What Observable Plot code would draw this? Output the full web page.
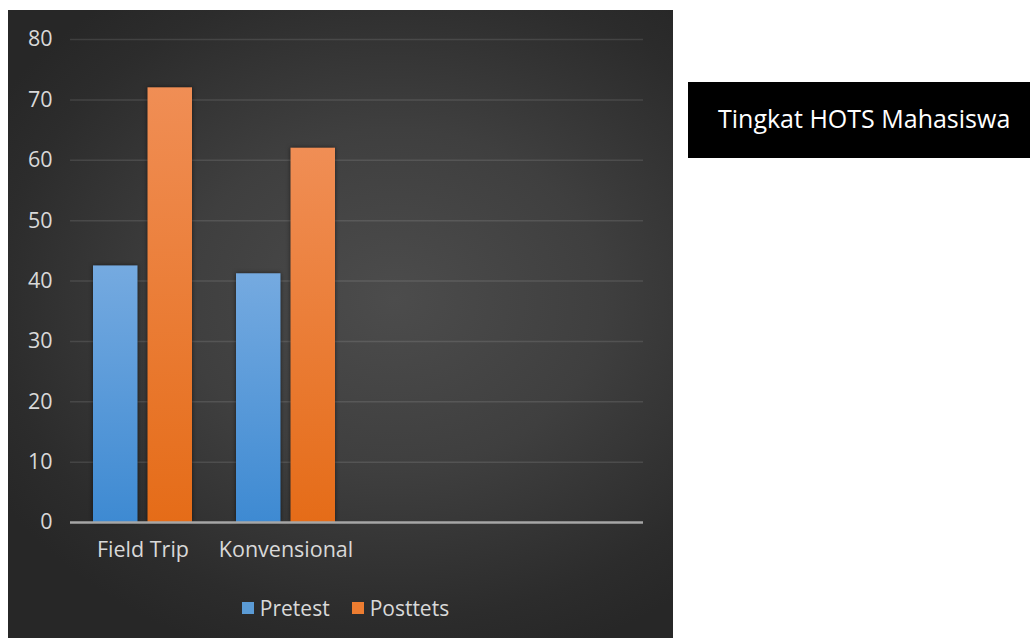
<!DOCTYPE html>
<html>
<head>
<meta charset="utf-8">
<script src="https://cdn.jsdelivr.net/npm/d3@7"></script>
<script src="https://cdn.jsdelivr.net/npm/@observablehq/plot@0.6"></script>
<style>
  html, body { margin: 0; padding: 0; background: #ffffff; width: 1030px; height: 638px; overflow: hidden; }
  #panel {
    position: absolute; left: 8px; top: 10px; width: 665px; height: 628px;
    background: radial-gradient(ellipse 70% 60% at 58% 46%, #4c4c4c 0%, #3f3f3f 45%, #2c2c2c 85%, #272727 100%);
    font-family: "Open Sans", sans-serif;
  }
  #chart { position: absolute; left: 0; top: 0; }
  #legend {
    position: absolute; left: 5px; top: 585px; width: 665px; height: 26px;
    display: flex; justify-content: center; align-items: center; gap: 22px;
    color: #d9d9d9; font-size: 21px; font-family: "Open Sans", sans-serif;
  }
  #legend .item { display: flex; align-items: center; gap: 6px; }
  #legend .sw { width: 12px; height: 12px; display: inline-block; }
  #title {
    position: absolute; left: 688px; top: 82px; width: 342px; height: 76px;
    background: #000000; color: #ffffff; font-family: "Open Sans", sans-serif;
    font-size: 25px; line-height: 72px; padding-left: 30px; box-sizing: border-box; white-space: nowrap;
  }
  #chart rect { filter: drop-shadow(0px 0px 2px rgba(0,0,0,0.55)); }
</style>
</head>
<body>
<div id="panel">
  <div id="chart"></div>
  <div id="legend"></div>
</div>
<div id="title">Tingkat HOTS Mahasiswa</div>
<script>
// ---- data ----
const categories = ["Field Trip", "Konvensional", "", " "]; // last two slots are empty in the source chart
const series = ["Pretest", "Posttets"];
const pretestValues = [42.5, 41.2];
const posttestValues = [72, 62];
const yTicks = [0, 10, 20, 30, 40, 50, 60, 70, 80];
const seriesColors = ["#5b9bd5", "#ed7d31"];

const rows = categories.slice(0, pretestValues.length).map((c, i) => ({
  category: c, pretest: pretestValues[i], posttest: posttestValues[i]
}));

const chart = Plot.plot({
  width: 665,
  height: 570,
  marginLeft: 62,
  marginRight: 30,
  marginTop: 29,
  marginBottom: 58,
  style: { background: "transparent", color: "#d9d9d9", fontFamily: "Open Sans, sans-serif", fontSize: "21px" },
  x: { domain: categories, paddingInner: 0.309, paddingOuter: 0.1545, label: null },
  y: { domain: [0, 80], label: null },
  marks: [
    Plot.ruleY(yTicks.filter(d => d > 0), { stroke: "#ffffff", strokeOpacity: 0.11, strokeWidth: 1.5 }),
    Plot.barY(rows, { x: "category", y: "pretest", fill: "url(#gradPre)", insetRight: 54.5 }),
    Plot.barY(rows, { x: "category", y: "posttest", fill: "url(#gradPost)", insetLeft: 54.5 }),
    Plot.ruleY([0], { stroke: "#a6a6a6", strokeWidth: 2.5 }),
    Plot.axisY(yTicks, { tickSize: 0, tickPadding: 18, label: null, fontSize: 21.5, fill: "#d9d9d9" }),
    Plot.axisX({ tickSize: 0, tickPadding: 19, label: null, fontSize: 21.5, fill: "#d9d9d9" })
  ]
});

// gradient definitions for the bar fills
const svg = d3.select(chart);
const defs = svg.insert("defs", ":first-child");
const g1 = defs.append("linearGradient").attr("id", "gradPre").attr("x1", 0).attr("y1", 0).attr("x2", 0).attr("y2", 1);
g1.append("stop").attr("offset", "0%").attr("stop-color", "#75aae0");
g1.append("stop").attr("offset", "100%").attr("stop-color", "#3e8ad2");
const g2 = defs.append("linearGradient").attr("id", "gradPost").attr("x1", 0).attr("y1", 0).attr("x2", 0).attr("y2", 1);
g2.append("stop").attr("offset", "0%").attr("stop-color", "#f08e55");
g2.append("stop").attr("offset", "100%").attr("stop-color", "#e56c18");

document.getElementById("chart").appendChild(chart);

// legend
const legend = document.getElementById("legend");
series.forEach((s, i) => {
  const item = document.createElement("span");
  item.className = "item";
  const sw = document.createElement("span");
  sw.className = "sw";
  sw.style.background = seriesColors[i];
  const t = document.createElement("span");
  t.textContent = s;
  item.appendChild(sw);
  item.appendChild(t);
  legend.appendChild(item);
});
</script>
</body>
</html>
